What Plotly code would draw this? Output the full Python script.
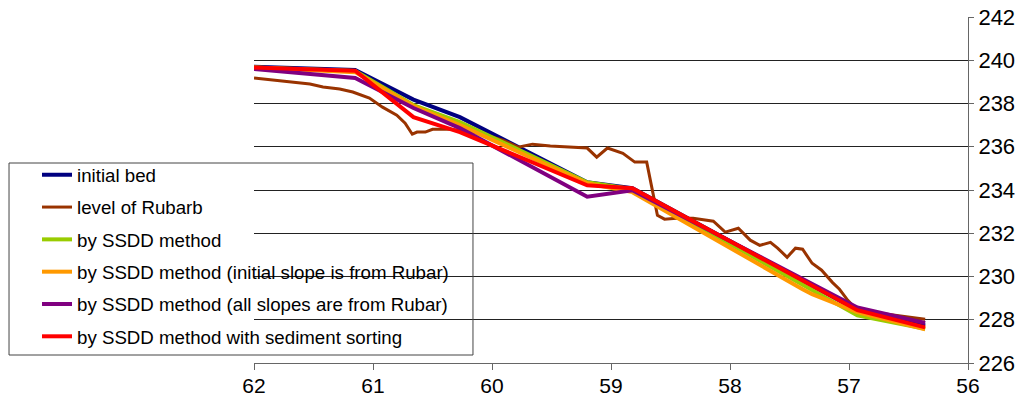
import plotly.graph_objects as go

# ---------------- data ----------------
km_ssdd = [62.0, 61.15, 60.66, 60.27, 59.2, 58.82, 56.93, 56.36]
initial_bed = [239.70, 239.55, 238.18, 237.37, 234.36, 234.08, 228.44, 227.74]
ssdd = [239.66, 239.50, 237.93, 237.14, 234.36, 234.04, 228.20, 227.58]
ssdd_all_slopes = [239.60, 239.18, 237.79, 236.86, 233.69, 233.99, 228.57, 227.85]
ssdd_sorting = [239.66, 239.52, 237.37, 236.68, 234.22, 234.08, 228.44, 227.65]

km_ssdd_init = [62.0, 61.15, 60.66, 60.27, 59.2, 58.82, 57.39, 57.31, 56.93, 56.36]
ssdd_init_slope = [239.66, 239.45, 237.88, 237.00, 234.31, 233.90, 229.41, 229.18, 228.35, 227.56]

km_rubar = [62.0, 61.76, 61.53, 61.42, 61.28, 61.17, 61.03, 60.92, 60.80, 60.73,
            60.67, 60.63, 60.56, 60.50, 60.35, 60.13, 59.91, 59.78, 59.66, 59.51,
            59.34, 59.20, 59.12, 59.03, 58.90, 58.80, 58.70, 58.61, 58.55, 58.45,
            58.31, 58.14, 58.04, 57.93, 57.83, 57.75, 57.66, 57.60, 57.52, 57.45,
            57.39, 57.31, 57.23, 57.14, 57.08, 57.01, 56.93, 56.36]
rubar = [239.18, 239.04, 238.90, 238.76, 238.67, 238.53, 238.25, 237.83, 237.46, 237.09,
         236.58, 236.68, 236.68, 236.81, 236.81, 236.66, 236.31, 235.98, 236.12, 236.03,
         235.98, 235.94, 235.52, 235.94, 235.70, 235.29, 235.29, 232.83, 232.65, 232.69,
         232.69, 232.56, 232.05, 232.23, 231.68, 231.44, 231.58, 231.31, 230.89, 231.31,
         231.26, 230.61, 230.29, 229.73, 229.41, 228.90, 228.44, 228.02]

x_ticks = [62, 61, 60, 59, 58, 57, 56]
y_ticks = [226, 228, 230, 232, 234, 236, 238, 240, 242]

series = [
    ("initial bed", km_ssdd, initial_bed, "#000080", 4),
    ("level of Rubarb", km_rubar, rubar, "#993300", 3),
    ("by SSDD method", km_ssdd, ssdd, "#99CC00", 4),
    ("by SSDD method (initial slope is from Rubar)", km_ssdd_init, ssdd_init_slope, "#FF9900", 4),
    ("by SSDD method (all slopes are from Rubar)", km_ssdd, ssdd_all_slopes, "#800080", 4),
    ("by SSDD method with sediment sorting", km_ssdd, ssdd_sorting, "#FF0000", 4),
]

FONT = "Arial, Liberation Sans, sans-serif"

fig = go.Figure()
for i, (name, xs, ys, color, w) in enumerate(series):
    fig.add_trace(go.Scatter(
        x=xs, y=ys, name=name, mode="lines",
        line=dict(color=color, width=w),
        legendgroup=f"g{i}",
    ))

# legend frame (paper coordinates, extends left of the plot area)
fig.add_shape(type="rect", xref="paper", yref="paper",
              x0=-0.3431, x1=0.3067, y0=0.0231, y1=0.578,
              line=dict(color="#444", width=1), fillcolor="rgba(0,0,0,0)",
              layer="above")

fig.update_layout(
    width=1020, height=398,
    margin=dict(l=254, r=52, t=17, b=35),
    paper_bgcolor="white", plot_bgcolor="white",
    font=dict(family=FONT, color="black", size=19),
    showlegend=True,
    legend=dict(
        x=-0.3039, xanchor="left", y=0.598, yanchor="top",
        bgcolor="rgba(0,0,0,0)", borderwidth=0,
        font=dict(family=FONT, size=18.7, color="black"),
        tracegroupgap=5, itemwidth=30,
    ),
    xaxis=dict(
        range=[62, 56], tickvals=x_ticks, ticktext=[str(v) for v in x_ticks],
        showgrid=False, zeroline=False, automargin=False,
        showline=True, linecolor="#666", linewidth=1,
        ticks="outside", ticklen=6, tickcolor="#666",
        ticklabelstandoff=-2,
        tickfont=dict(family=FONT, size=21, color="black"),
    ),
    yaxis=dict(
        range=[226, 242], tickvals=y_ticks, ticktext=[str(v) for v in y_ticks],
        side="right", showgrid=True, gridcolor="#222", gridwidth=1,
        zeroline=False, showline=True, linecolor="#666", linewidth=1, automargin=False,
        ticks="outside", ticklen=5, tickcolor="#666",
        tickfont=dict(family=FONT, size=22, color="black"),
    ),
)

fig.write_html("out.html")
